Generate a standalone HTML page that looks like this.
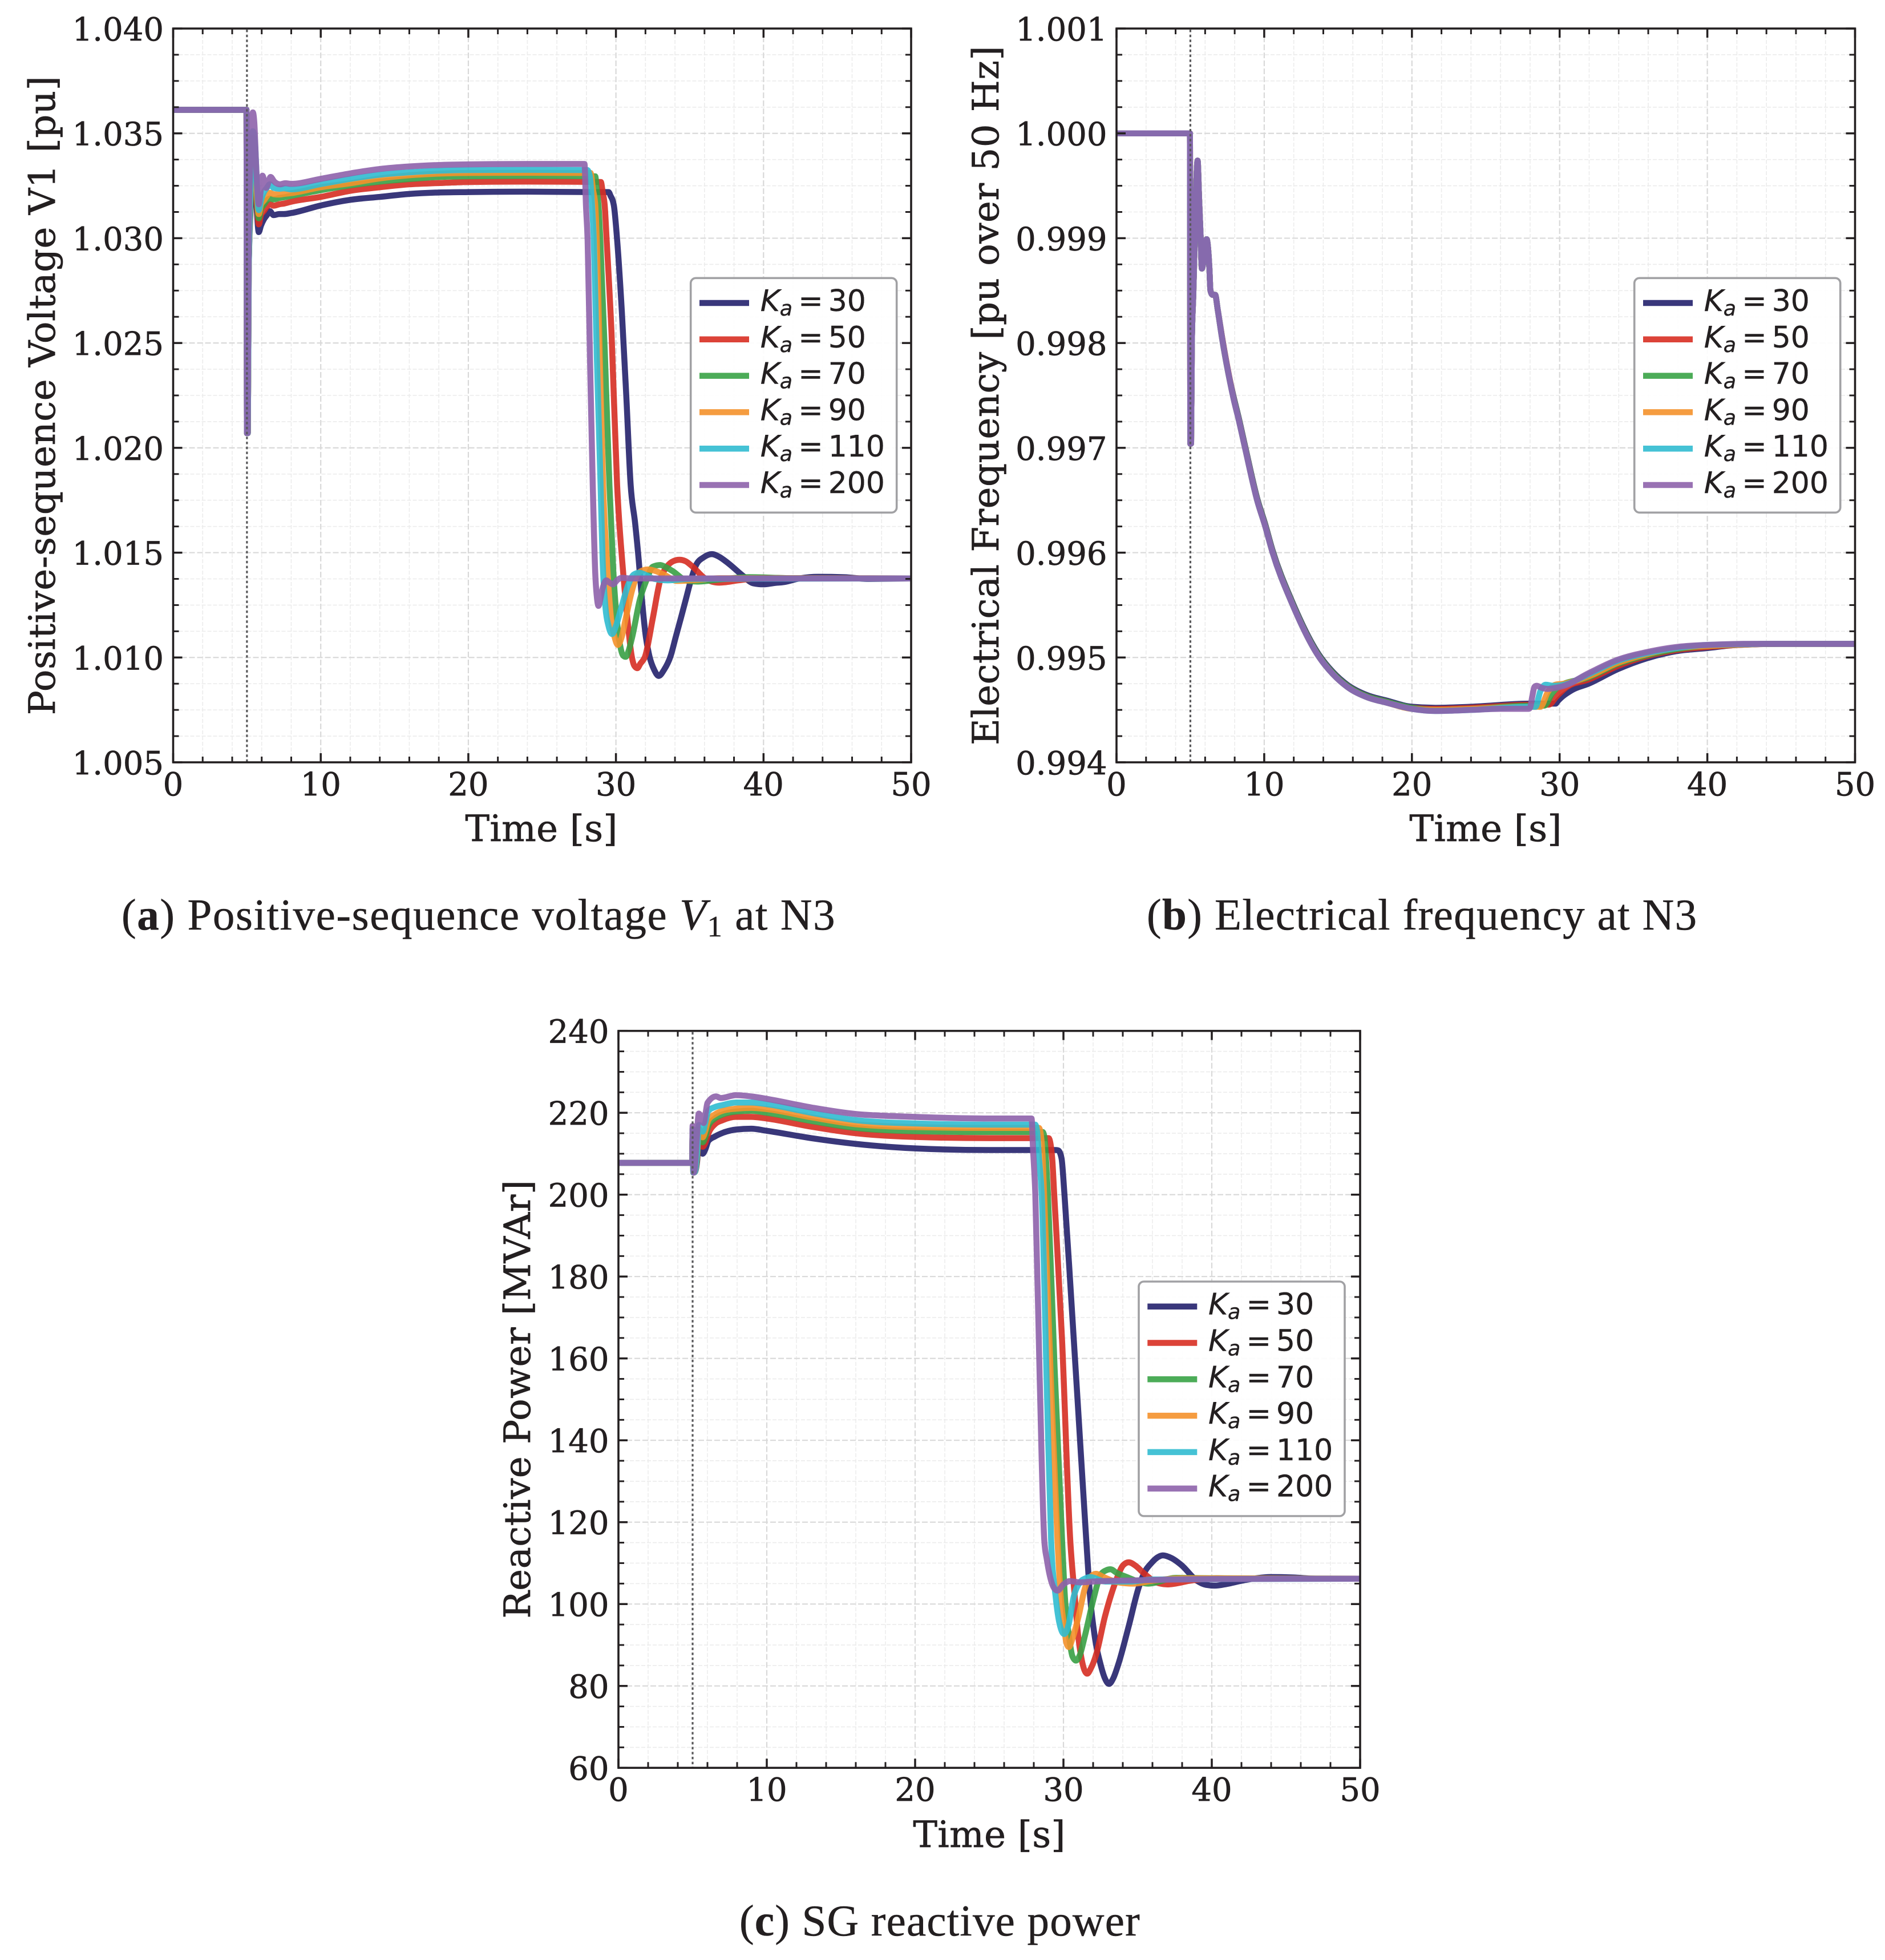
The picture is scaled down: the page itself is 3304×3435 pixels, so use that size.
<!DOCTYPE html>
<html lang="en">
<head>
<meta charset="utf-8">
<title>Voltage, frequency and reactive power for varying Ka</title>
<style>
html,body{margin:0;padding:0;background:#fff;}
svg{display:block;}
.tick{font-family:"DejaVu Serif",serif;font-size:56px;fill:#231f20;stroke:#231f20;stroke-width:0.7px;}
.title{font-family:"DejaVu Serif",serif;font-size:64px;fill:#231f20;stroke:#231f20;stroke-width:0.7px;}
.ylab{letter-spacing:0.55px;}
.cap{font-family:"Liberation Serif",serif;font-size:77px;fill:#231f20;stroke:#231f20;stroke-width:0.5px;}
.leg{font-family:"DejaVu Sans",sans-serif;font-size:52px;fill:#231f20;stroke:#231f20;stroke-width:0.4px;}
</style>
</head>
<body>
<svg id="figure" xmlns="http://www.w3.org/2000/svg" width="3304" height="3435" viewBox="0 0 3304 3435">
  <rect width="3304" height="3435" fill="#ffffff"/>
  <g id="panel-a"></g>
  <g id="panel-b"></g>
  <g id="panel-c"></g>

  <text class="title" x="949" y="1474" text-anchor="middle" letter-spacing="0.3">Time [s]</text>
  <text class="title" x="2604" y="1474" text-anchor="middle" letter-spacing="0.3">Time [s]</text>
  <text class="title" x="1734" y="3237" text-anchor="middle" letter-spacing="0.3">Time [s]</text>

  <text class="title ylab" transform="translate(96,693) rotate(-90)" text-anchor="middle">Positive-sequence Voltage V1 [pu]</text>
  <text class="title ylab" transform="translate(1750,693) rotate(-90)" text-anchor="middle">Electrical Frequency [pu over 50 Hz]</text>
  <text class="title ylab" transform="translate(929,2452) rotate(-90)" text-anchor="middle">Reactive Power [MVAr]</text>

  <text class="cap" x="213" y="1629" letter-spacing="1.6">(<tspan font-weight="bold">a</tspan>) Positive-sequence voltage <tspan font-style="italic">V</tspan><tspan font-size="52" dy="12">1</tspan><tspan dy="-12"> at N3</tspan></text>
  <text class="cap" x="2010" y="1629" letter-spacing="1.4">(<tspan font-weight="bold">b</tspan>) Electrical frequency at N3</text>
  <text class="cap" x="1296" y="3392" letter-spacing="1.2">(<tspan font-weight="bold">c</tspan>) SG reactive power</text>
</svg>
<script>
// ---------- shared data ----------
const xTickValues = [0,10,20,30,40,50];
const xTickLabels = ['0','10','20','30','40','50'];
const legendLabels = ['30','50','70','90','110','200'];
const faultTime = [5];

// ---------- panel (a) voltage ----------
const yTicksA = [1.005,1.010,1.015,1.020,1.025,1.030,1.035,1.040];
const yLabelsA = ['1.005','1.010','1.015','1.020','1.025','1.030','1.035','1.040'];

const timeA30 = [0,4.97,5,5.06,5.12,5.25,5.4,5.55,5.68,5.8,5.95,6.15,6.35,6.55,6.8,7.2,7.5,8,10,12,14,16,18,20,24,28,29.5,29.65,29.78,29.86,30.08,30.4,30.7,31,31.3,31.55,31.76,32.03,32.27,32.6,32.9,33.25,33.7,34.05,34.4,34.74,35.08,35.43,35.95,36.5,37,37.6,38.6,39.3,40,40.7,41.4,42.5,43.7,45.5,47,50];
const voltA30 = [1.03612,1.03612,1.0207,1.0207,1.0285,1.0315,1.0338,1.033,1.0312,1.03029,1.0306,1.0309,1.0311,1.03129,1.0311,1.03115,1.03115,1.0312,1.03156,1.03183,1.03197,1.03211,1.03218,1.0322,1.03222,1.0322,1.0322,1.032,1.0318,1.03156,1.02993,1.0265,1.0225,1.0182,1.01641,1.0146,1.01278,1.01097,1.01006,1.0094,1.00912,1.0094,1.01006,1.01097,1.01188,1.01278,1.01369,1.01441,1.01478,1.01493,1.0148,1.0145,1.0139,1.01354,1.01349,1.01355,1.0136,1.01378,1.01385,1.01383,1.01375,1.01377];

const timeA50 = [0,4.97,5,5.06,5.12,5.25,5.4,5.55,5.68,5.8,5.95,6.15,6.35,6.55,6.8,7.2,7.5,8,10,12,14,16,18,20,24,28.98,29.1,29.24,29.37,29.7,30.08,30.48,30.77,31.07,31.25,31.45,31.65,31.98,32.5,33,33.45,33.9,34.3,34.7,35.2,36,36.5,37,38.3,40,42,50];
const voltA50 = [1.03612,1.03612,1.0207,1.0207,1.0285,1.0318,1.0342,1.0335,1.0316,1.03066,1.0311,1.0313,1.0315,1.03162,1.03155,1.03162,1.03165,1.03174,1.03197,1.03226,1.03243,1.03257,1.03263,1.03268,1.0327,1.03268,1.0322,1.03156,1.02993,1.0255,1.01822,1.01414,1.01188,1.01006,1.0096,1.00949,1.0097,1.01006,1.01188,1.01369,1.01433,1.0146,1.01466,1.0146,1.01433,1.01379,1.01362,1.01357,1.01368,1.0138,1.01378,1.01377];

const timeA70 = [0,4.97,5,5.06,5.12,5.25,5.4,5.55,5.68,5.8,5.95,6.15,6.35,6.55,6.8,7.2,7.5,8,10,12,14,16,18,20,24,28.6,28.7,28.82,28.94,29.25,29.56,29.82,30.05,30.3,30.48,30.66,30.85,31.1,31.63,32.07,32.5,33,33.4,33.8,34.83,35.5,37,39,42,50];
const voltA70 = [1.03612,1.03612,1.0207,1.0207,1.0285,1.032,1.0345,1.0338,1.0318,1.03095,1.0314,1.0316,1.0318,1.03189,1.03185,1.03192,1.03195,1.03202,1.03229,1.03252,1.0327,1.03282,1.03292,1.03295,1.03297,1.03295,1.0323,1.03156,1.02993,1.0245,1.01822,1.01414,1.01188,1.01052,1.0101,1.01003,1.0103,1.01097,1.01278,1.01369,1.01433,1.01441,1.0143,1.01414,1.01366,1.01362,1.01372,1.01383,1.01378,1.01377];

const timeA90 = [0,4.97,5,5.06,5.12,5.25,5.4,5.55,5.68,5.8,5.95,6.15,6.35,6.55,6.8,7.2,7.5,8,10,12,14,16,18,20,24,28.28,28.45,28.6,28.7,28.9,29.13,29.39,29.67,29.9,30.13,30.4,30.67,31.11,31.46,31.8,32.2,32.7,33.27,34.13,35.5,37,50];
const voltA90 = [1.03612,1.03612,1.0207,1.0207,1.0285,1.0322,1.0348,1.034,1.032,1.03115,1.0316,1.0318,1.032,1.03216,1.0321,1.03208,1.03211,1.03215,1.03243,1.03262,1.03285,1.033,1.03308,1.03311,1.03312,1.03311,1.0323,1.03156,1.02993,1.0245,1.01822,1.0146,1.01188,1.011,1.0106,1.011,1.01188,1.01325,1.01396,1.01415,1.0142,1.01412,1.01395,1.01365,1.0137,1.01378,1.01377];

const timeA110 = [0,4.97,5,5.06,5.12,5.25,5.4,5.55,5.68,5.8,5.95,6.15,6.35,6.55,6.8,7.2,7.5,8,10,12,14,16,18,20,24,28.06,28.24,28.38,28.5,28.7,28.96,29.1,29.3,29.5,29.74,30,30.34,30.86,31.2,31.55,32.6,33.5,35,50];
const voltA110 = [1.03612,1.03612,1.0207,1.0207,1.0285,1.0325,1.0351,1.0345,1.0325,1.03134,1.0318,1.0322,1.0324,1.03257,1.0324,1.03236,1.03238,1.03233,1.03258,1.03283,1.03303,1.03314,1.03322,1.03325,1.03326,1.03325,1.03292,1.03156,1.02993,1.0245,1.01822,1.0146,1.01232,1.0115,1.01112,1.0115,1.01232,1.01352,1.01395,1.01404,1.01375,1.01368,1.01375,1.01377];

const timeA200 = [0,4.97,5,5.05,5.12,5.25,5.4,5.5,5.62,5.8,5.92,6.05,6.3,6.6,6.85,7.25,7.6,8,10,12,14,16,18,20,24,27.87,27.97,28.08,28.25,28.43,28.6,28.72,28.82,28.95,29.1,29.35,29.55,29.8,30.1,30.4,31,50];
const voltA200 = [1.03612,1.03612,1.0207,1.0207,1.0305,1.034,1.036,1.0355,1.0335,1.03162,1.0322,1.03298,1.0324,1.03292,1.0327,1.03257,1.03262,1.03259,1.03283,1.03309,1.0333,1.03342,1.03349,1.03352,1.03354,1.03354,1.03156,1.02993,1.024,1.01822,1.014,1.0128,1.01246,1.0128,1.0133,1.01368,1.01358,1.01349,1.0137,1.0138,1.01377,1.01377];

// ---------- panel (b) frequency ----------
const yTicksB = [0.994,0.995,0.996,0.997,0.998,0.999,1.000,1.001];
const yLabelsB = ['0.994','0.995','0.996','0.997','0.998','0.999','1.000','1.001'];

const timeB30 = [0,4.97,5,5.05,5.1,5.2,5.3,5.49,5.59,5.69,5.78,5.95,6.1,6.29,6.36,6.5,6.68,6.85,7.13,7.7,7.94,8.27,8.7,9.54,10.05,10.57,11.87,13.69,14.66,15.62,16.98,18.26,20,21.6,24,28,29.73,29.85,30.85,31.96,33.96,35.85,37.9,40,42,45,50];
const freqB30 = [1,1,0.99704,0.99704,0.998,0.99847,0.9990,0.99974,0.99938,0.99903,0.99871,0.99885,0.99899,0.99871,0.9985,0.99846,0.99846,0.99832,0.99807,0.99763,0.99748,0.99729,0.99702,0.99651,0.99628,0.99602,0.99554,0.99503,0.99486,0.99474,0.99464,0.99459,0.99453,0.99452,0.99453,0.99456,0.99456,0.99458,0.99469,0.99475,0.99489,0.99499,0.99506,0.99509,0.99512,0.99513,0.99513];

const timeB50 = [0,4.97,5,5.05,5.1,5.2,5.3,5.49,5.59,5.69,5.78,5.95,6.1,6.29,6.36,6.5,6.68,6.85,7.13,7.7,7.94,8.27,8.7,9.54,10.05,10.57,11.87,13.69,14.66,15.62,16.98,18.26,20,21.6,24,28,29.27,29.8,30.5,31.96,33.96,35.85,37.9,40,45,50];
const freqB50 = [1,1,0.99704,0.99704,0.998,0.99847,0.9990,0.99974,0.99938,0.99903,0.99871,0.99885,0.99899,0.99871,0.9985,0.99846,0.99846,0.99832,0.99807,0.99763,0.99747,0.99728,0.99701,0.9965,0.99627,0.99601,0.99553,0.99502,0.99485,0.99473,0.99463,0.99458,0.99452,0.99451,0.99452,0.99455,0.99455,0.99463,0.99472,0.99479,0.99492,0.99501,0.99507,0.9951,0.99513,0.99513];

const timeB70 = [0,4.97,5,5.05,5.1,5.2,5.3,5.49,5.59,5.69,5.78,5.95,6.1,6.29,6.36,6.5,6.68,6.85,7.13,7.7,7.94,8.27,8.7,9.54,10.05,10.57,11.87,13.69,14.66,15.62,16.98,18.26,20,21.6,24,28,28.95,29.5,30,31.96,33.96,35.85,37.9,40,45,50];
const freqB70 = [1,1,0.99704,0.99704,0.998,0.99847,0.9990,0.99974,0.99938,0.99903,0.99871,0.99885,0.99899,0.99871,0.9985,0.99846,0.99846,0.99832,0.99806,0.99762,0.99747,0.99728,0.99701,0.9965,0.99627,0.99601,0.99553,0.99502,0.99485,0.99473,0.99463,0.99458,0.99452,0.9945,0.99451,0.99454,0.99454,0.99466,0.99473,0.99481,0.99494,0.99502,0.99508,0.99511,0.99513,0.99513];

const timeB90 = [0,4.97,5,5.05,5.1,5.2,5.3,5.49,5.59,5.69,5.78,5.95,6.1,6.29,6.36,6.5,6.68,6.85,7.13,7.7,7.94,8.27,8.7,9.54,10.05,10.57,11.87,13.69,14.66,15.62,16.98,18.26,20,21.6,24,28,28.7,29.2,29.7,30.3,31.96,33.96,35.85,37.9,40,45,50];
const freqB90 = [1,1,0.99704,0.99704,0.998,0.99847,0.9990,0.99974,0.99938,0.99903,0.99871,0.99885,0.99899,0.99871,0.9985,0.99846,0.99846,0.99832,0.99806,0.99762,0.99746,0.99727,0.997,0.99649,0.99626,0.996,0.99552,0.99501,0.99484,0.99472,0.99462,0.99457,0.99451,0.9945,0.99451,0.99453,0.99453,0.99467,0.99474,0.99475,0.99482,0.99495,0.99503,0.99509,0.99511,0.99513,0.99513];

const timeB110 = [0,4.97,5,5.05,5.1,5.2,5.3,5.49,5.59,5.69,5.78,5.95,6.1,6.29,6.36,6.5,6.68,6.85,7.13,7.7,7.94,8.27,8.7,9.54,10.05,10.57,11.87,13.69,14.66,15.62,16.98,18.26,20,21.6,24,28,28.36,28.7,29.05,29.6,30.3,31.96,33.96,35.85,37.9,40,45,50];
const freqB110 = [1,1,0.99704,0.99704,0.998,0.99847,0.9990,0.99974,0.99938,0.99903,0.99871,0.99885,0.99899,0.99871,0.9985,0.99846,0.99846,0.99832,0.99806,0.99762,0.99746,0.99727,0.997,0.99649,0.99626,0.996,0.99552,0.99501,0.99484,0.99472,0.99462,0.99457,0.99451,0.99449,0.9945,0.99453,0.99453,0.99468,0.99474,0.99473,0.99474,0.99484,0.99497,0.99504,0.99509,0.99512,0.99513,0.99513];

const timeB200 = [0,4.97,5,5.05,5.1,5.2,5.3,5.49,5.59,5.69,5.78,5.95,6.1,6.29,6.36,6.5,6.68,6.85,7.13,7.7,7.94,8.27,8.7,9.54,10.05,10.57,11.87,13.69,14.66,15.62,16.98,18.26,20,21.6,24,26,27.9,28,28.15,28.3,28.44,28.8,29.2,29.7,30.3,31.96,33.96,35.85,37.9,40,42.5,50];
const freqB200 = [1,1,0.99704,0.99704,0.998,0.99847,0.9990,0.99974,0.99938,0.99903,0.99871,0.99885,0.99899,0.99871,0.9985,0.99846,0.99846,0.99832,0.99806,0.99762,0.99746,0.99727,0.997,0.99649,0.99626,0.996,0.99552,0.99501,0.99484,0.99472,0.99462,0.99457,0.99451,0.99449,0.9945,0.99451,0.99451,0.99452,0.99463,0.99472,0.99473,0.99471,0.9947,0.99471,0.99473,0.99485,0.99498,0.99505,0.9951,0.99512,0.99513,0.99513];

// ---------- panel (c) reactive power ----------
const yTicksC = [60,80,100,120,140,160,180,200,220,240];
const yLabelsC = ['60','80','100','120','140','160','180','200','220','240'];

const timeC30 = [0,4.97,5,5.05,5.15,5.3,5.42,5.55,5.68,5.85,6.06,6.5,7.03,7.92,8.95,10,13,16,20,25,29.5,29.65,29.87,30.06,30.5,31,31.54,31.8,32.1,32.5,32.8,33.07,33.35,33.7,34.4,35.06,35.5,35.9,36.3,36.7,37.3,37.96,39,39.6,40.2,41,42,43,43.9,45.5,47,50];
const qC30 = [207.76,207.76,216,205.4,205.5,208,213,212,210,211,213.1,214.2,215.1,215.9,216.1,215.6,213.8,212.4,211.3,210.9,210.9,210.8,208.9,200.5,176,147,115.5,101.6,92.3,85.3,81.8,80.5,81.8,85.3,94.6,103.9,108,109.9,111.3,111.9,111.2,109.5,105.7,104.7,104.5,104.9,105.7,106.3,106.6,106.5,106.2,106.2];

const timeC50 = [0,4.97,5,5.05,5.15,5.3,5.42,5.55,5.68,5.85,6.06,6.5,7.03,7.92,8.95,10,13,16,20,25,29,29.24,29.37,29.9,30.46,30.77,30.99,31.2,31.6,31.85,32.2,32.8,33.5,34.03,34.4,34.85,35.4,36.26,37,38.7,40.3,42,50];
const qC50 = [207.76,207.76,216,205.4,205.5,208.5,214,213.5,211.7,212.6,214.9,217.2,218.2,219,219,218.6,216.6,215,214.1,213.8,213.8,208.9,200.5,165,115.5,101.6,92.3,87,83,84.3,87.6,97,105.3,109.5,110.2,109.4,107.6,105.3,104.8,105.8,106.3,106.2,106.2];

const timeC70 = [0,4.97,5,5.05,5.15,5.3,5.42,5.55,5.68,5.85,6.06,6.5,7.03,7.92,8.95,10,13,16,20,25,28.6,28.72,28.82,28.95,29.4,29.91,30.1,30.37,30.6,30.85,31.1,31.45,32.05,32.5,32.85,33.17,33.6,34.2,35.7,37.6,40,50];
const qC70 = [207.76,207.76,216,205.4,205.5,209,215,214.5,212.8,214,216.8,218.6,219.6,220.3,220.5,220,218,216.3,215.5,215.3,215.3,214,208.9,200.5,158,115.5,101.6,92.3,87.3,86.2,87.5,92.3,101.6,107.1,108.2,108.5,107.6,106.7,105,106.4,106.3,106.2];

const timeC90 = [0,4.97,5,5.05,5.15,5.3,5.42,5.55,5.68,5.85,6.06,6.5,7.03,7.92,8.95,10,13,16,20,25,28.35,28.48,28.6,28.69,29.15,29.6,29.82,30.03,30.2,30.37,30.6,31.02,31.45,31.8,32.2,32.7,33.7,34.7,36,38,50];
const qC90 = [207.76,207.76,216,205.4,205.5,209.5,216,215.5,214,215.5,218.2,219.6,220.5,221,221.2,220.9,218.9,217.2,216.5,216.3,216.3,214.5,208.9,200.5,155,115.5,101.6,95,90.5,89.5,91.5,97,103.9,106.5,107.4,106.6,105.3,105,105.7,106.3,106.2];

const timeC110 = [0,4.97,5,5.05,5.15,5.3,5.42,5.55,5.68,5.85,6.06,6.5,7.03,7.92,8.95,10,13,16,20,25,28.1,28.22,28.35,28.53,28.9,29.17,29.48,29.75,30.05,30.35,30.68,31.11,31.5,31.8,32.83,34.5,36,50];
const qC110 = [207.76,207.76,216,205.4,205.5,210,217,216.8,215.4,217.5,220.5,221.4,221.9,222.5,222.5,222.1,220,218.2,217.4,217.1,217.1,215.5,208.9,200.5,150,115.5,101.6,95,92.7,95,101.6,105.3,106.3,106.6,105.5,105.5,106,106.2];

const timeC200 = [0,4.97,5,5.08,5.15,5.25,5.42,5.6,5.74,5.88,6,6.58,6.9,7.92,8.95,10,13,16,20,25,27.85,27.95,28.1,28.4,28.71,28.88,29.13,29.35,29.6,30,30.42,31.1,31.97,35,40,50];
const qC200 = [207.76,207.76,216.8,205.4,206.5,212,219.8,218.6,217.5,220,222.4,224,223.6,224.3,224,223.4,221.3,219.7,219,218.6,218.6,211.2,200.5,155,115.5,110.9,106.2,104,103.3,104.8,105.6,105.3,105.5,105.8,106.1,106.2];

// ---------- axes configuration ----------
const SVGNS = 'http://www.w3.org/2000/svg';
const seriesColors = ['#23216c','#d62e22','#38a045','#f4912b','#30bbd0','#8e62ab'];
const legendColors = ['#39377b','#dc4338','#4cac58','#f59c40','#45c2d5','#9972b3'];
const keyNames = ['30','50','70','90','110','200'];

const panels = [
 {id:'panel-a',key:'a',left:303.5,right:1597,top:50,bottom:1336,yMin:1.005,yMax:1.040,yTicks:yTicksA,yLabels:yLabelsA,labelRight:287,
  times:[timeA30,timeA50,timeA70,timeA90,timeA110,timeA200],values:[voltA30,voltA50,voltA70,voltA90,voltA110,voltA200],legendLeft:1210.7,legendTop:487.3},
 {id:'panel-b',key:'b',left:1957,right:3251.5,top:50,bottom:1336,yMin:0.994,yMax:1.001,yTicks:yTicksB,yLabels:yLabelsB,labelRight:1940.5,
  times:[timeB30,timeB50,timeB70,timeB90,timeB110,timeB200],values:[freqB30,freqB50,freqB70,freqB90,freqB110,freqB200],legendLeft:2864.7,legendTop:487.3},
 {id:'panel-c',key:'c',left:1084,right:2384,top:1806.7,bottom:3098.2,yMin:60,yMax:240,yTicks:yTicksC,yLabels:yLabelsC,labelRight:1067.5,
  times:[timeC30,timeC50,timeC70,timeC90,timeC110,timeC200],values:[qC30,qC50,qC70,qC90,qC110,qC200],legendLeft:1996,legendTop:2246}
];

function lineEl(parent,x1,y1,x2,y2,stroke,width,dash){
  const l=document.createElementNS(SVGNS,'line');
  l.setAttribute('x1',x1);l.setAttribute('y1',y1);l.setAttribute('x2',x2);l.setAttribute('y2',y2);
  l.setAttribute('stroke',stroke);l.setAttribute('stroke-width',width);
  if(dash)l.setAttribute('stroke-dasharray',dash);
  parent.appendChild(l);
  return l;
}

// Monotone cubic through the points (no overshoot at plateau corners).
function smoothPath(pts){
  const n=pts.length;
  const s=[];
  for(let i=0;i<n-1;i++){
    const dx=pts[i+1][0]-pts[i][0];
    s.push(dx>0?(pts[i+1][1]-pts[i][1])/dx:0);
  }
  const m=new Array(n);
  for(let i=1;i<n-1;i++){
    const h0=pts[i][0]-pts[i-1][0],h1=pts[i+1][0]-pts[i][0];
    const p=(s[i-1]*h1+s[i]*h0)/(h0+h1);
    const sg=(Math.sign(s[i-1])+Math.sign(s[i]));
    m[i]=sg*Math.min(Math.abs(s[i-1]),Math.abs(s[i]),0.5*Math.abs(p));
  }
  m[0]=n>1?(3*s[0]-m[1])/2:0;
  m[n-1]=n>1?(3*s[n-2]-m[n-2])/2:0;
  let d='M'+pts[0][0].toFixed(2)+' '+pts[0][1].toFixed(2);
  for(let i=0;i<n-1;i++){
    const h=(pts[i+1][0]-pts[i][0])/3;
    d+=' C'+(pts[i][0]+h).toFixed(2)+' '+(pts[i][1]+h*m[i]).toFixed(2)+' '+
       (pts[i+1][0]-h).toFixed(2)+' '+(pts[i+1][1]-h*m[i+1]).toFixed(2)+' '+
       pts[i+1][0].toFixed(2)+' '+pts[i+1][1].toFixed(2);
  }
  return d;
}

panels.forEach(function(P){
  const root=document.getElementById(P.id);
  const xScale=function(t){return P.left+(t/50)*(P.right-P.left);};
  const yScale=function(v){return P.bottom-((v-P.yMin)/(P.yMax-P.yMin))*(P.bottom-P.top);};
  const yStep=P.yTicks[1]-P.yTicks[0];

  // grid
  const grid=document.createElementNS(SVGNS,'g');
  
  
  root.appendChild(grid);
  for(let t=0;t<=50;t+=2){
    if(t%10!==0)lineEl(grid,xScale(t),P.top,xScale(t),P.bottom,'#ececec',1.6,'7 3');
  }
  for(let i=0;i<P.yTicks.length-1;i++){
    for(let k=1;k<4;k++){
      const yy=yScale(P.yTicks[i]+yStep*k/4);
      lineEl(grid,P.left,yy,P.right,yy,'#ececec',1.6,'7 3');
    }
  }
  xTickValues.forEach(function(t){
    if(t>0&&t<50)lineEl(grid,xScale(t),P.top,xScale(t),P.bottom,'#d9d9d9',2.2,'10 4');
  });
  P.yTicks.forEach(function(v,i){
    if(i>0&&i<P.yTicks.length-1)lineEl(grid,P.left,yScale(v),P.right,yScale(v),'#d9d9d9',2.2,'10 4');
  });

  // clip
  const defs=document.createElementNS(SVGNS,'defs');
  const clip=document.createElementNS(SVGNS,'clipPath');
  clip.setAttribute('id','clip-'+P.key);
  const cr=document.createElementNS(SVGNS,'rect');
  cr.setAttribute('x',P.left);cr.setAttribute('y',P.top);
  cr.setAttribute('width',P.right-P.left);cr.setAttribute('height',P.bottom-P.top);
  clip.appendChild(cr);defs.appendChild(clip);root.appendChild(defs);

  // series
  const lines=document.createElementNS(SVGNS,'g');
  lines.setAttribute('clip-path','url(#clip-'+P.key+')');
  
  
  root.appendChild(lines);
  P.values.forEach(function(vals,s){
    const ts=P.times[s];
    const pts=vals.map(function(v,i){return [xScale(ts[i]),yScale(v)];});
    const path=document.createElementNS(SVGNS,'path');
    path.setAttribute('d',smoothPath(pts));
    path.setAttribute('fill','none');
    path.setAttribute('stroke',seriesColors[s]);
    path.setAttribute('stroke-opacity','0.9');
    path.setAttribute('stroke-width','10.5');
    path.setAttribute('stroke-linejoin','round');
    
    
    lines.appendChild(path);
  });

  // fault marker
  const fx=xScale(faultTime[0]);
  const marker=lineEl(root,fx,P.top+2,fx,P.bottom,'#58585a',3.2,'4.4 4.3');
  
  

  // ticks
  const ticks=document.createElementNS(SVGNS,'g');
  
  
  root.appendChild(ticks);
  for(let t=0;t<=50;t+=2){
    const major=t%10===0;
    const len=major?16:10,w=major?3.5:3;
    lineEl(ticks,xScale(t),P.bottom,xScale(t),P.bottom-len,'#231f20',w);
    lineEl(ticks,xScale(t),P.top,xScale(t),P.top+len,'#231f20',w);
  }
  for(let i=0;i<P.yTicks.length;i++){
    const yy=yScale(P.yTicks[i]);
    lineEl(ticks,P.left,yy,P.left+16,yy,'#231f20',3.5);
    lineEl(ticks,P.right,yy,P.right-16,yy,'#231f20',3.5);
    if(i<P.yTicks.length-1){
      for(let k=1;k<4;k++){
        const ym=yScale(P.yTicks[i]+yStep*k/4);
        lineEl(ticks,P.left,ym,P.left+10,ym,'#231f20',3);
        lineEl(ticks,P.right,ym,P.right-10,ym,'#231f20',3);
      }
    }
  }

  // spines
  const spine=document.createElementNS(SVGNS,'rect');
  spine.setAttribute('x',P.left);spine.setAttribute('y',P.top);
  spine.setAttribute('width',P.right-P.left);spine.setAttribute('height',P.bottom-P.top);
  spine.setAttribute('fill','none');spine.setAttribute('stroke','#231f20');spine.setAttribute('stroke-width','3.6');
  
  
  root.appendChild(spine);

  // tick labels
  xTickValues.forEach(function(t,i){
    const el=document.createElementNS(SVGNS,'text');
    el.setAttribute('class','tick');
    el.setAttribute('x',xScale(t));el.setAttribute('y',P.bottom+58);
    el.setAttribute('text-anchor','middle');
    el.textContent=xTickLabels[i];
    
    
    root.appendChild(el);
  });
  P.yTicks.forEach(function(v,i){
    const el=document.createElementNS(SVGNS,'text');
    el.setAttribute('class','tick');
    el.setAttribute('x',P.labelRight);el.setAttribute('y',yScale(v)+21);
    el.setAttribute('text-anchor','end');
    el.textContent=P.yLabels[i];
    
    
    root.appendChild(el);
  });

  // legend
  const legend=document.createElementNS(SVGNS,'g');
  
  
  root.appendChild(legend);
  const box=document.createElementNS(SVGNS,'rect');
  box.setAttribute('x',P.legendLeft);box.setAttribute('y',P.legendTop);
  box.setAttribute('width',361);box.setAttribute('height',411);box.setAttribute('rx',9);
  box.setAttribute('fill','#ffffff');box.setAttribute('fill-opacity','0.9');
  box.setAttribute('stroke','#a1a1a4');box.setAttribute('stroke-width','3.6');
  legend.appendChild(box);
  legendLabels.forEach(function(lab,i){
    const yy=P.legendTop+43.7+i*63.8;
    const h=lineEl(legend,P.legendLeft+15.3,yy,P.legendLeft+102.3,yy,legendColors[i],10.5);
    
    
    const tx=document.createElementNS(SVGNS,'text');
    tx.setAttribute('class','leg');
    tx.setAttribute('y',yy+14);
    const L=P.legendLeft;
    tx.innerHTML='<tspan x="'+(L+122)+'" font-style="italic">K</tspan>'+
      '<tspan x="'+(L+156)+'" dy="8" font-size="36.4" font-style="italic">a</tspan>'+
      '<tspan x="'+(L+188.5)+'" dy="-8">=</tspan>'+
      '<tspan x="'+(L+241)+'">'+lab+'</tspan>';
    
    
    legend.appendChild(tx);
  });
});
</script>
</body>
</html>
